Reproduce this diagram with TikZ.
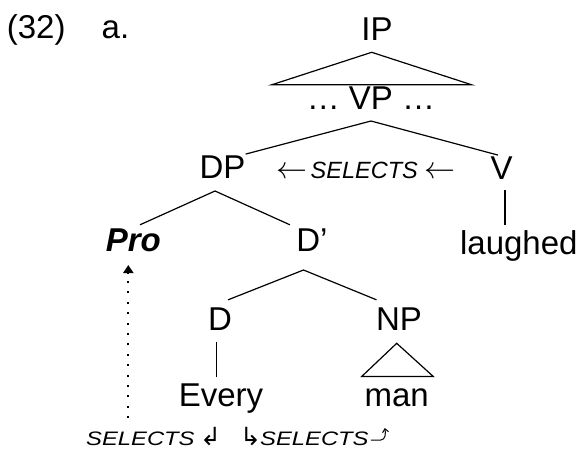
\documentclass[tikz,border=0pt]{standalone}
\usepackage{fontspec}
\setmainfont{Liberation Sans}
\newfontfamily\arrowfont{DejaVu Sans}
\usetikzlibrary{calc,arrows.meta}

\newcommand\longleft{\resizebox{31pt}{!}{$\leftarrow$}}

\begin{document}
\begin{tikzpicture}[x=1pt,y=1pt,
  lbl/.style={anchor=base, inner sep=0pt, text height=24pt, text depth=0pt,
    font=\fontsize{33}{36}\selectfont},
  branch/.style={line width=1.2pt, line join=miter},
  tag/.style={anchor=base west, inner sep=0pt},
  hook/.style={anchor=base west, inner sep=0pt, font=\arrowfont\fontsize{25}{28}\selectfont},
  curlarrow/.style={line width=1pt, -{Straight Barb[length=3.5pt,width=6pt]}},
  selectsdots/.style={line width=2pt, dash pattern=on 2pt off 8.4pt,
    -{Triangle[width=10pt,length=8pt]}}]
\useasboundingbox (0,0) rectangle (582,-453);

% example number
\node[lbl] (exnum) at (36.2,-38.3) {(32)};
\node[lbl] (exsub) at (115.5,-38.3) {a.};

% tree labels
\node[lbl] (IP) at (377,-40) {IP};
\node[lbl] (VP) at (371,-109) {… VP …};
\node[lbl] (DP) at (222.5,-178.3) {DP};
\node[lbl] (V) at (501.7,-179.3) {V};
\node[lbl, font=\fontsize{33}{36}\selectfont\bfseries\itshape] (Pro) at (133.3,-251.7) {Pro};
\node[lbl] (Dbar) at (312,-251.7) {D’};
\node[lbl] (laughed) at (518.8,-254.3) {laughed};
\node[lbl] (D) at (220,-330) {D};
\node[lbl] (NP) at (399,-330) {NP};
\node[lbl] (Every) at (221,-406.7) {Every};
\node[lbl] (man) at (396.7,-406.7) {man};

% selection between V and DP
\node[tag] (selmid) at (276.5,-178) {\longleft\hspace{3pt}{\fontsize{23.5}{26}\selectfont\itshape SELECTS}\hspace{7pt}\longleft};

% selections below the DP
\node[tag] (selL) at (86,-445) {\scalebox{1.22}[1]{\fontsize{19.5}{21}\selectfont\itshape SELECTS}};
\node[hook] (hookL) at (200,-445) {↲};
\node[hook] (hookR) at (240,-445) {↳};
\node[tag] (selR) at (260,-445) {\scalebox{1.22}[1]{\fontsize{19.5}{21}\selectfont\itshape SELECTS}};
\coordinate (curlfoot) at ($(selR.base east)+(2,5)$);
\coordinate (curltip) at ($(selR.base east)+(16,17)$);
\draw[curlarrow] (curlfoot) -- ++(10,0) to[out=0,in=-80] (curltip);

% IP roof over VP
\draw[branch] ($(IP.base)+(-5.3,-12.3)$) -- ($(VP.north)+(100.7,0)$)
  -- ($(VP.north)+(-99.3,0)$) -- cycle;

% VP branches
\draw[branch] (DP.north east) -- ($(VP.base)+(0,-12)$) -- ($(V.north)+(-3.7,0)$);

% DP branches
\draw[branch] ($(Pro.north)+(6.7,2.7)$) -- ($(DP.base)+(-7.5,-12.7)$)
  -- ($(Dbar.north west)+(-6.3,2.7)$);

% D' branches
\draw[branch] ($(D.north east)+(-4,6)$) -- ($(Dbar.base)+(-8.5,-18.3)$)
  -- ($(NP.north west)+(0.6,6)$);

% D - Every
\draw[branch] ($(D.base)+(-3.3,-11.7)$) -- ($(Every.north)+(-4.3,6)$);

% NP roof over man
\draw[branch] ($(NP.base)+(-2.3,-13.3)$) -- ($(man.north)+(36.6,6)$)
  -- ($(man.north)+(-35,6)$) -- cycle;

% V - laughed
\draw[branch] ($(V.base)+(3.3,-10.7)$) -- ($(laughed.north)+(-13.8,5.3)$);

% dotted selection arrow up to Pro
\draw[selectsdots] ($(selL.north west)+(42.3,13)$) -- ($(Pro.base)+(-5,-13.3)$);
\end{tikzpicture}
\end{document}
